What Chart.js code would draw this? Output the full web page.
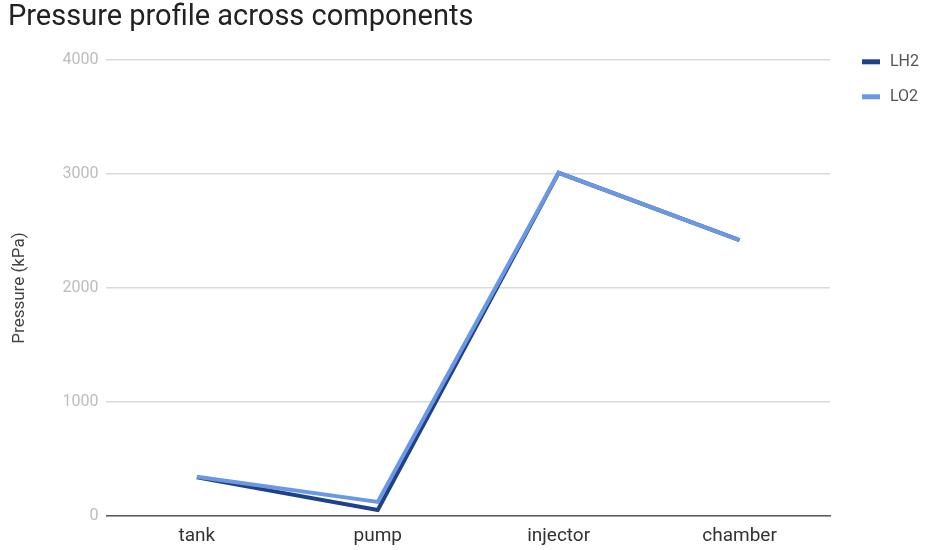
<!DOCTYPE html>
<html>
<head>
<meta charset="utf-8">
<title>Pressure profile across components</title>
<script src="https://cdn.jsdelivr.net/npm/chart.js@4.4.1/dist/chart.umd.min.js"></script>
<style>
  html, body { margin: 0; padding: 0; background: #ffffff; }
  #wrap { width: 930px; height: 550px; position: relative; }
</style>
</head>
<body>
<div id="wrap"><canvas id="chart"></canvas></div>
<script>
// Components along the feed path
const components = ['tank', 'pump', 'injector', 'chamber'];

// Pressure (kPa) at each component
const lh2Pressure = [340, 55, 3010, 2420];
const lo2Pressure = [345, 125, 3010, 2420];

// Y axis ticks
const pressureTicks = [0, 1000, 2000, 3000, 4000];

const FONT = 'Roboto, "Noto Sans", sans-serif';
Chart.defaults.font.family = FONT;

// Legend drawn to the right of the plot: short thick bar + label, stacked at the top
const sideLegend = {
  id: 'sideLegend',
  afterDraw(chart) {
    const { ctx, chartArea } = chart;
    const x0 = chartArea.right + 32;
    let y = chartArea.top + 2;
    ctx.save();
    ctx.font = '16px ' + FONT;
    ctx.textBaseline = 'middle';
    chart.data.datasets.forEach(ds => {
      ctx.fillStyle = ds.borderColor;
      ctx.fillRect(x0, y - 2.5, 18, 5);
      ctx.fillStyle = '#555555';
      ctx.fillText(ds.label, x0 + 28, y);
      y += 35;
    });
    ctx.restore();
  }
};

const ctx = document.getElementById('chart');
new Chart(ctx, {
  type: 'line',
  data: {
    labels: components,
    datasets: [
      {
        label: 'LH2',
        data: lh2Pressure,
        borderColor: '#20408a',
        backgroundColor: '#20408a',
        borderWidth: 4,
        pointRadius: 0,
        tension: 0,
        order: 1
      },
      {
        label: 'LO2',
        data: lo2Pressure,
        borderColor: '#6b98e2',
        backgroundColor: '#6b98e2',
        borderWidth: 4,
        pointRadius: 0,
        tension: 0,
        order: 0
      }
    ]
  },
  plugins: [sideLegend],
  options: {
    responsive: true,
    maintainAspectRatio: false,
    animation: false,
    layout: { padding: { left: 8, right: 100, top: 0, bottom: -7 } },
    plugins: {
      title: {
        display: true,
        text: 'Pressure profile across components',
        align: 'start',
        color: '#222222',
        font: { size: 29, weight: 'normal' },
        padding: { top: 0, bottom: 25 }
      },
      legend: { display: false },
      tooltip: { enabled: false }
    },
    scales: {
      x: {
        offset: true,
        grid: { display: false, drawTicks: false },
        border: { display: true, color: '#5a5a5a', width: 1.6 },
        ticks: { color: '#333333', font: { size: 19 }, padding: 9 }
      },
      y: {
        min: 0,
        max: 4000,
        afterBuildTicks: (axis) => { axis.ticks = pressureTicks.map(v => ({ value: v })); },
        grid: { color: '#dadada', lineWidth: 1.4, drawTicks: false },
        border: { display: false },
        ticks: {
          color: '#bdbdbd',
          font: { size: 16 },
          padding: 8,
          callback: (v) => String(v)
        },
        title: {
          display: true,
          text: 'Pressure (kPa)',
          color: '#444444',
          font: { size: 17 },
          padding: { top: 2, bottom: 24 }
        }
      }
    }
  }
});
</script>
</body>
</html>
